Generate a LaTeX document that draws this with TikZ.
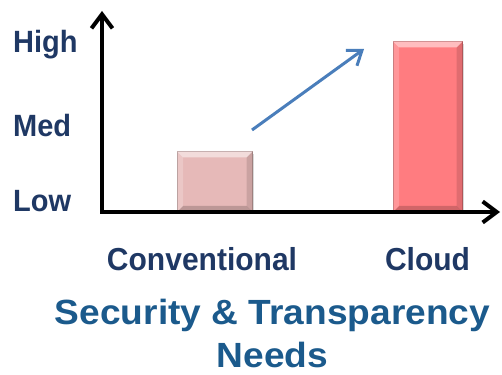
\documentclass[tikz,border=0pt]{standalone}
\usepackage{fontspec}
\setmainfont{Liberation Sans}
\usepackage{tikz}
\usetikzlibrary{arrows.meta}
\usetikzlibrary{shadows}
\definecolor{navy}{HTML}{1F3864}
\definecolor{titleblue}{HTML}{1B5A8C}
\definecolor{arrowblue}{HTML}{4A7EBB}
\definecolor{lowbar}{HTML}{E6B9B8}
\definecolor{highbar}{HTML}{FF7C80}
\tikzset{
    axis/.style={draw=black, line width=4pt,
        {Straight Barb[length=14pt,width=21pt]}-{Straight Barb[length=14pt,width=21pt]}},
    trend/.style={draw=arrowblue, line width=3pt, -{Straight Barb[length=13pt,width=19pt]}},
    level/.style={anchor=base west, inner sep=0pt, text=navy, yscale=1.06,
        font=\bfseries\fontsize{29}{34}\selectfont},
    category/.style={anchor=base, inner sep=0pt, text=navy, yscale=1.06,
        font=\bfseries\fontsize{30}{36}\selectfont},
    caption/.style={anchor=base, inner sep=0pt, text=titleblue, xscale=1.06,
        font=\bfseries\fontsize{35}{42}\selectfont},
    bar/.style={anchor=south west, inner sep=0pt, fill=#1, draw=#1!75!black, line width=0.6pt,
        drop shadow={shadow xshift=2pt, shadow yshift=-2pt, opacity=0.3}},
}
% bevel on a bar node
\newcommand{\bevel}[1]{
    \fill[white, opacity=0.5] (#1.north west) -- (#1.north east) -- ([shift={(-6pt,-6pt)}]#1.north east) -- ([shift={(6pt,-6pt)}]#1.north west) -- cycle;
    \fill[white, opacity=0.2] (#1.north west) -- ([shift={(6pt,-6pt)}]#1.north west) -- ([shift={(6pt,6pt)}]#1.south west) -- (#1.south west) -- cycle;
    \fill[black, opacity=0.12] (#1.north east) -- ([shift={(-6pt,-6pt)}]#1.north east) -- ([shift={(-6pt,6pt)}]#1.south east) -- (#1.south east) -- cycle;
    \fill[black, opacity=0.18] (#1.south west) -- ([shift={(6pt,6pt)}]#1.south west) -- ([shift={(-6pt,6pt)}]#1.south east) -- (#1.south east) -- cycle;
}
\begin{document}
\begin{tikzpicture}[x=1pt, y=1pt]
    \useasboundingbox (0,0) rectangle (502,374);
    % bars
    \node[bar=lowbar, minimum width=75pt, minimum height=60pt] (conv) at (177,162) {};
    \bevel{conv}
    \node[bar=highbar, minimum width=69pt, minimum height=170pt] (cloud) at (393,162) {};
    \bevel{cloud}
    % axes
    \coordinate (origin) at (102,162);
    \coordinate (ytip) at (102,363);
    \coordinate (xtip) at (500,162);
    \draw[axis] (ytip) -- (origin) -- (xtip);
    % rising need
    \coordinate (riseStart) at (252,244);
    \coordinate (riseEnd) at (364,325);
    \draw[trend] (riseStart) -- (riseEnd);
    % levels
    \node[level] (high) at (13,321) {High};
    \node[level] (med) at (13,237) {Med};
    \node[level] (low) at (13,162) {Low};
    % categories
    \node[category] (convlabel) at (202,103) {Conventional};
    \node[category] (cloudlabel) at (427.5,103) {Cloud};
    \node[caption] (needs1) at (272.5,49) {Security \& Transparency};
    \node[caption] (needs2) at (272.5,7) {Needs};
\end{tikzpicture}
\end{document}
